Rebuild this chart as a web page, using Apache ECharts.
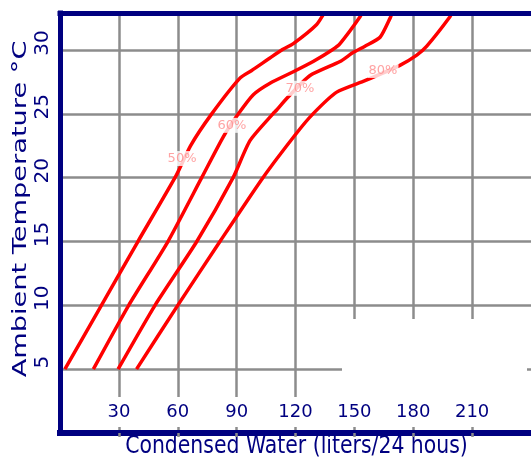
<!DOCTYPE html>
<html><head><meta charset="utf-8">
<script src="https://cdn.jsdelivr.net/npm/echarts@6/dist/echarts.min.js"></script>
<style>html,body{margin:0;padding:0;background:#fff}#c{width:531px;height:461px}</style>
</head><body><div id="c"></div>
<script>
// ---- data ----
const xTicks = [30, 60, 90, 120, 150, 180, 210];
const yTicks = [5, 10, 15, 20, 25, 30];
const seriesNames = ['50%', '60%', '70%', '80%'];
const rh50 = [[2.5,5],[21.1,10],[39.7,15],[59.3,20.2],[66.5,22.5],[77.3,25],[91.7,27.8],[97.7,28.4],[113,30],[118.9,30.5],[130.8,32],[135,33]];
const rh60 = [[17,5],[35,10],[55,15],[72.2,20],[83.2,23.2],[90.9,25],[98.5,26.5],[107,27.4],[118.9,28.3],[129,29.1],[138.6,30],[142.7,30.5],[152.9,32.6],[154,33]];
const rh70 = [[29.6,5],[48.4,10],[69.7,15],[88.2,20],[96.8,22.9],[108.5,25],[110.4,25.3],[115.5,26.2],[127.4,28],[142.7,29.1],[149.3,29.8],[155.4,30.3],[163.1,31],[168.2,32.5],[169.5,33]];
const rh80 = [[39,5],[60,10],[81.5,15],[103.4,20],[120.6,23.5],[128.9,25],[141,26.7],[155.4,27.6],[173.2,28.8],[181.8,29.6],[186.9,30.3],[198.7,32.6],[199.8,33]];
const labelX = [62.2, 87.6, 122.3, 164.6];
const labelY = [21.5, 24.1, 27.0, 28.4];
const xTitle = 'Condensed Water (liters/24 hous)';
const yTitle = 'Ambient Temperature °C';

// ---- chart ----
const NAVY = '#000080', GRID = '#8c8c8c', FONT = '"DejaVu Sans", sans-serif';
const X_MIN = 0, X_MAX = 240, X_INT = 30, Y_MIN = 0, Y_MAX = 32.9, Y_INT = 5;
const gridBox = {left: 60, right: 0, top: 13, bottom: 28};
const chart = echarts.init(document.getElementById('c'), null, {renderer: 'canvas'});
const curves = [rh50, rh60, rh70, rh80];
const tickFmt = list => v => (list.indexOf(v) >= 0 ? String(v) : '');

const option = {
  animation: false,
  backgroundColor: '#fff',
  grid: [Object.assign({}, gridBox), Object.assign({}, gridBox)],
  xAxis: [
    {gridIndex: 0, type: 'value', min: X_MIN, max: X_MAX, interval: X_INT, z: 0,
     axisLine: {show: false}, axisTick: {show: false}, axisLabel: {show: false},
     splitLine: {show: true, showMinLine: false, showMaxLine: false, lineStyle: {color: GRID, width: 2.5}}},
    {gridIndex: 1, type: 'value', position: 'bottom', min: X_MIN, max: X_MAX, interval: X_INT, z: 10,
     axisLine: {show: true, lineStyle: {color: NAVY, width: 6, cap: 'square'}},
     axisTick: {show: true, length: 4, lineStyle: {color: GRID, width: 2.5}},
     axisLabel: {show: true, inside: true, margin: 12, fontSize: 18, fontFamily: FONT, color: NAVY,
                 showMinLabel: false, showMaxLabel: false, formatter: tickFmt(xTicks)},
     splitLine: {show: false}},
    {gridIndex: 1, type: 'value', position: 'top', min: X_MIN, max: X_MAX, interval: X_INT, z: 10,
     axisLine: {show: true, lineStyle: {color: NAVY, width: 5, cap: 'square'}},
     axisTick: {show: false}, axisLabel: {show: false}, splitLine: {show: false}}
  ],
  yAxis: [
    {gridIndex: 0, type: 'value', min: Y_MIN, max: Y_MAX, interval: Y_INT, z: 0,
     axisLine: {show: false}, axisTick: {show: false}, axisLabel: {show: false},
     splitLine: {show: true, showMinLine: false, showMaxLine: false, lineStyle: {color: GRID, width: 2.5}}},
    {gridIndex: 1, type: 'value', position: 'left', min: Y_MIN, max: Y_MAX, interval: Y_INT, z: 10,
     axisLine: {show: true, lineStyle: {color: NAVY, width: 5, cap: 'square'}},
     axisTick: {show: false},
     axisLabel: {show: true, rotate: 90, margin: 7, fontSize: 20, fontFamily: FONT, color: NAVY,
                 padding: [0, 0, 0, 14],
                 showMinLabel: false, showMaxLabel: false, formatter: tickFmt(yTicks)},
     splitLine: {show: false}}
  ],
  series: curves.map((d, i) => ({
    name: seriesNames[i], type: 'line', xAxisIndex: 0, yAxisIndex: 0, data: d,
    symbol: 'none', smooth: 0.2, clip: true, z: 2,
    lineStyle: {color: '#ff0000', width: 3.5}
  })).concat([{
    type: 'scatter', xAxisIndex: 0, yAxisIndex: 0, z: 3, symbolSize: 1,
    itemStyle: {color: 'rgba(0,0,0,0)'},
    data: seriesNames.map((n, i) => ({name: n, value: [labelX[i], labelY[i]]})),
    label: {show: true, position: 'inside', formatter: '{b}', fontSize: 13, fontFamily: FONT,
            color: '#ff8c8c', backgroundColor: '#ffffff', padding: [1, 1]}
  }]),
  graphic: [
    {type: 'rect', z: 1, shape: {x: 62, y: 397, width: 469, height: 30}, style: {fill: '#ffffff'}},
    {type: 'rect', z: 1, shape: {x: 342, y: 319, width: 185, height: 108}, style: {fill: '#ffffff'}},
    {type: 'text', z: 10, x: 21, y: 209, rotation: Math.PI / 2, scaleX: 1.36,
     style: {text: yTitle, font: '20px ' + FONT, fill: NAVY, align: 'center', verticalAlign: 'middle',
             textAlign: 'center', textVerticalAlign: 'middle'}},
    {type: 'text', z: 10, x: 296.5, y: 447, scaleX: 0.85,
     style: {text: xTitle, font: '24px ' + FONT, fill: NAVY, align: 'center', verticalAlign: 'middle',
             textAlign: 'center', textVerticalAlign: 'middle'}}
  ]
};
chart.setOption(option);
</script>
</body></html>
